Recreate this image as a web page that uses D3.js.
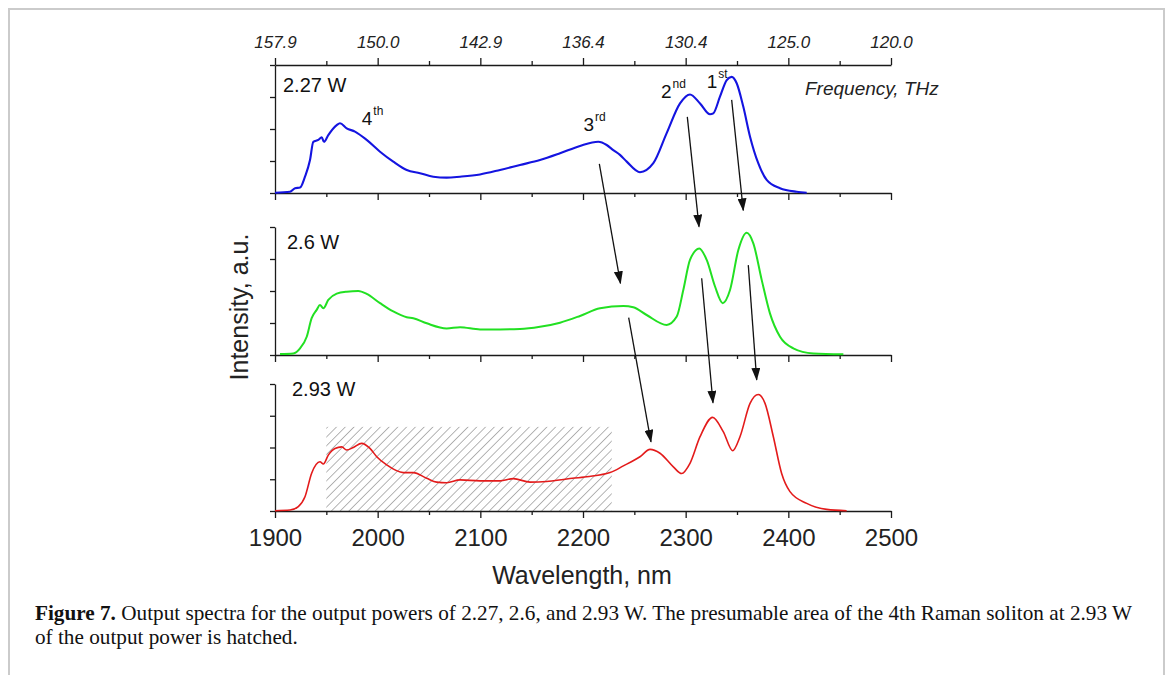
<!DOCTYPE html>
<html>
<head>
<meta charset="utf-8">
<script src="https://cdn.jsdelivr.net/npm/d3@7"></script>
<style>
  html, body { margin: 0; padding: 0; background: #fff; }
  svg { display: block; }
</style>
</head>
<body>
<svg id="chart" width="1166" height="675"></svg>
<script>
// ---------------- DATA ----------------
const wavelengthTicks = [1900, 2000, 2100, 2200, 2300, 2400, 2500];
const wavelengthMinor = [1950, 2050, 2150, 2250, 2350, 2450];
const frequencyLabels = ["157.9", "150.0", "142.9", "136.4", "130.4", "125.0", "120.0"];
const intensityTicks = [0, 1, 2, 3, 4];
const powerLabels = ["2.27 W", "2.6 W", "2.93 W"];

// [wavelength nm, intensity a.u.]
const spectrum227 = [
  [1900,0.01],[1914.6,0.04],[1919.5,0.15],[1924.4,0.17],[1929.2,0.51],[1934.1,1.03],
  [1937.3,1.60],[1942.2,1.66],[1945.5,1.74],[1947.7,1.60],[1951.9,1.81],[1960.1,2.12],
  [1963.3,2.18],[1969.8,2.02],[1977.9,1.92],[1989.3,1.66],[2002.3,1.29],[2015.2,0.98],
  [2028.3,0.72],[2041.2,0.62],[2054.2,0.51],[2067.2,0.48],[2080.2,0.51],[2099.7,0.58],
  [2119.2,0.72],[2138.6,0.875],[2158.1,1.03],[2177.6,1.24],[2197.1,1.47],[2214.9,1.60],
  [2223.1,1.50],[2229.5,1.34],[2236.0,1.19],[2242.6,0.98],[2255.5,0.65],[2268.5,0.93],
  [2281.5,1.87],[2294.5,2.80],[2304.2,3.08],[2314.0,2.80],[2323.7,2.46],[2326.9,2.49],
  [2333.4,3.01],[2340.0,3.53],[2344.8,3.63],[2349.7,3.43],[2356.1,2.70],[2362.7,1.76],
  [2370.7,0.93],[2378.9,0.41],[2391.9,0.15],[2408.1,0.04],[2417.9,0.01]
];
const spectrum26 = [
  [1904.9,0.03],[1917.8,0.05],[1924.4,0.21],[1930.9,0.57],[1935.7,1.15],[1940.6,1.41],
  [1943.8,1.56],[1947.1,1.46],[1951.9,1.72],[1960.1,1.92],[1969.8,1.98],[1981.1,2.00],
  [1989.3,1.91],[2002.3,1.62],[2015.2,1.36],[2028.3,1.18],[2034.7,1.15],[2047.8,0.99],
  [2067.2,0.83],[2080.2,0.87],[2099.7,0.80],[2119.2,0.80],[2138.6,0.81],[2158.1,0.88],
  [2177.6,1.01],[2197.1,1.22],[2216.6,1.46],[2239.3,1.53],[2249.0,1.49],[2262.0,1.25],
  [2281.5,0.94],[2291.3,1.20],[2297.7,2.03],[2304.2,2.97],[2313.3,3.33],[2320.5,2.97],
  [2328.6,2.14],[2336.1,1.62],[2343.2,2.03],[2351.3,3.28],[2359.4,3.82],[2365.9,3.49],
  [2374.1,2.34],[2382.1,1.30],[2391.9,0.57],[2404.8,0.21],[2424.3,0.05],[2453.6,0.02]
];
const spectrum293 = [
  [1900,0.01],[1914.6,0.03],[1922.7,0.14],[1929.2,0.45],[1935.7,1.19],[1943.8,1.55],
  [1947.1,1.48],[1951.9,1.76],[1958.4,1.97],[1965.0,2.02],[1969.8,1.92],[1976.3,2.00],
  [1984.4,2.13],[1992.5,1.97],[1999.1,1.71],[2008.8,1.45],[2025.0,1.21],[2034.7,1.21],
  [2047.8,1.03],[2057.5,0.91],[2067.2,0.89],[2080.2,0.98],[2099.7,0.95],[2119.2,0.95],
  [2132.1,1.02],[2148.4,0.91],[2164.6,0.93],[2184.1,1.01],[2203.6,1.08],[2226.3,1.21],
  [2239.3,1.42],[2255.5,1.71],[2265.3,1.94],[2275.0,1.82],[2288.0,1.39],[2296.1,1.18],
  [2304.2,1.50],[2314.0,2.34],[2326.3,2.95],[2336.6,2.50],[2345.8,1.90],[2352.9,2.34],
  [2362.7,3.39],[2370.7,3.67],[2377.3,3.39],[2385.4,2.34],[2393.5,1.18],[2401.6,0.61],
  [2417.9,0.24],[2437.4,0.05],[2456.8,0.01]
];

// hatched region of the 4th soliton (2.93 W panel)
const hatchRange = [1950, 2228];
const hatchTop = 2.65;

// soliton order labels in the 2.27 W panel: [label, superscript, wavelength, intensity]
const orderLabels = [
  ["4", "th", 1984.5, 2.12],
  ["3", "rd", 2200.5, 1.94],
  ["2", "nd", 2276.0, 2.96],
  ["1", "st", 2320.5, 3.28]
];

// arrows: [panel, wavelength, intensity] -> [panel, wavelength, intensity]
const arrows = [
  [[0, 2215.9, 0.91], [1, 2236.5, 2.24]],
  [[0, 2301.6, 2.38], [1, 2313.0, 4.01]],
  [[0, 2344.8, 2.91], [1, 2356.1, 4.52]],
  [[1, 2244.5, 1.17], [2, 2266.2, 2.18]],
  [[1, 2315.6, 2.40], [2, 2326.6, 3.41]],
  [[1, 2361.0, 2.81], [2, 2369.2, 4.13]]
];

// ---------------- LAYOUT ----------------
const svg = d3.select("#chart");
const sans = "'Liberation Sans', Arial, sans-serif";
const axisColor = "#1a1a1a";

const x = d3.scaleLinear().domain([1900, 2500]).range([275, 891]);
const panelBox = [
  { top: 65, bottom: 193 },
  { top: 227, bottom: 355 },
  { top: 384, bottom: 511 }
];
const yScales = panelBox.map(p => d3.scaleLinear().domain([0, 4]).range([p.bottom, p.top]));
const colors = ["#1414e0", "#22e022", "#e31b1b"];
const widths = [2.1, 2.0, 1.6];
const series = [spectrum227, spectrum26, spectrum293];

// figure frame
svg.append("path")
  .attr("d", "M9,675 L9,9 L1164,9 L1164,675")
  .attr("fill", "none").attr("stroke", "#cbcbcb").attr("stroke-width", 2);

// defs: hatch + arrow
const defs = svg.append("defs");
defs.append("pattern")
  .attr("id", "hatch").attr("patternUnits", "userSpaceOnUse")
  .attr("width", 6.2).attr("height", 6.2)
  .attr("patternTransform", "rotate(45)")
  .append("line")
  .attr("x1", 0).attr("y1", 0).attr("x2", 0).attr("y2", 6.2)
  .attr("stroke", "#5a5a5a").attr("stroke-width", 0.9);
defs.append("marker")
  .attr("id", "arrowhead").attr("markerUnits", "userSpaceOnUse")
  .attr("markerWidth", 13).attr("markerHeight", 9)
  .attr("refX", 12).attr("refY", 4.5).attr("orient", "auto")
  .append("path").attr("d", "M0,0 L13,4.5 L0,9 Z").attr("fill", "#111");

// hatched area
svg.append("rect")
  .attr("x", x(hatchRange[0]))
  .attr("y", yScales[2](hatchTop))
  .attr("width", x(hatchRange[1]) - x(hatchRange[0]))
  .attr("height", yScales[2](0) - yScales[2](hatchTop))
  .attr("fill", "url(#hatch)");

function styleAxis(g) {
  g.selectAll("path, line").attr("stroke", axisColor).attr("stroke-width", 1.3);
}

panelBox.forEach((p, i) => {
  const y = yScales[i];
  // bottom axis: major + minor ticks
  const gb = svg.append("g").attr("transform", `translate(0,${p.bottom})`);
  const major = d3.axisBottom(x).tickValues(wavelengthTicks).tickSize(7).tickSizeOuter(0)
    .tickPadding(11).tickFormat(d3.format("d"));
  if (i < 2) major.tickFormat("");
  gb.call(major);
  gb.append("g").call(d3.axisBottom(x).tickValues(wavelengthMinor).tickSize(4).tickFormat(""))
    .select(".domain").remove();
  gb.selectAll("text").attr("font-family", sans).attr("font-size", 24).attr("fill", "#222");
  styleAxis(gb);

  // left axis
  const gl = svg.append("g").attr("transform", "translate(275,0)");
  gl.call(d3.axisLeft(y).tickValues(intensityTicks).tickSize(5).tickSizeOuter(0).tickFormat(""));
  styleAxis(gl);

  // spectrum line
  const line = d3.line().x(d => x(d[0])).y(d => y(d[1])).curve(d3.curveMonotoneX);
  svg.append("path").datum(series[i])
    .attr("d", line).attr("fill", "none")
    .attr("stroke", colors[i]).attr("stroke-width", widths[i])
    .attr("stroke-linejoin", "round");

  // power label
  svg.append("text")
    .attr("x", [283, 287, 292][i]).attr("y", [92, 249, 396][i])
    .attr("font-family", sans).attr("font-size", 20).attr("fill", "#111")
    .text(powerLabels[i]);
});

// top frequency axis
const gt = svg.append("g").attr("transform", "translate(0,65)");
gt.call(d3.axisTop(x).tickValues(wavelengthTicks).tickSize(7).tickSizeOuter(0).tickPadding(10)
  .tickFormat((d, i) => frequencyLabels[i]));
gt.append("g").call(d3.axisTop(x).tickValues(wavelengthMinor).tickSize(4).tickFormat(""))
  .select(".domain").remove();
gt.selectAll("text").attr("font-family", sans).attr("font-size", 17)
  .attr("font-style", "italic").attr("fill", "#222");
styleAxis(gt);

svg.append("text")
  .attr("x", 805).attr("y", 95)
  .attr("font-family", sans).attr("font-size", 19).attr("font-style", "italic").attr("fill", "#222")
  .text("Frequency, THz");

// soliton order labels
orderLabels.forEach(d => {
  const t = svg.append("text")
    .attr("x", x(d[2])).attr("y", yScales[0](d[3]))
    .attr("font-family", sans).attr("font-size", 19).attr("fill", "#111");
  t.append("tspan").text(d[0]);
  t.append("tspan").attr("font-size", 12).attr("dy", -10).attr("dx", 1).text(d[1]);
});

// arrows
arrows.forEach(a => {
  svg.append("line")
    .attr("x1", x(a[0][1])).attr("y1", yScales[a[0][0]](a[0][2]))
    .attr("x2", x(a[1][1])).attr("y2", yScales[a[1][0]](a[1][2]))
    .attr("stroke", "#111").attr("stroke-width", 1.3)
    .attr("marker-end", "url(#arrowhead)");
});

// axis titles
svg.append("text")
  .attr("x", 582).attr("y", 584).attr("text-anchor", "middle")
  .attr("font-family", sans).attr("font-size", 25).attr("fill", "#222")
  .text("Wavelength, nm");
svg.append("text")
  .attr("transform", "translate(248,307) rotate(-90)").attr("text-anchor", "middle")
  .attr("font-family", sans).attr("font-size", 25).attr("fill", "#222")
  .text("Intensity, a.u.");

// caption
const serif = "'Liberation Serif', 'Times New Roman', serif";
const cap = svg.append("g");
const l1 = cap.append("text").attr("x", 0).attr("y", 620)
  .attr("font-family", serif).attr("font-size", 22).attr("fill", "#111");
l1.append("tspan").attr("font-weight", "bold").text("Figure 7.");
l1.append("tspan").text(" Output spectra for the output powers of 2.27, 2.6, and 2.93 W. The presumable area of the 4th Raman soliton at 2.93 W");
cap.append("text").attr("x", 0).attr("y", 644)
  .attr("font-family", serif).attr("font-size", 22).attr("fill", "#111")
  .text("of the output power is hatched.");
const natural = l1.node().getComputedTextLength();
const sx = 1097 / natural;
cap.attr("transform", `translate(35,0) scale(${sx},1)`);
</script>
</body>
</html>
